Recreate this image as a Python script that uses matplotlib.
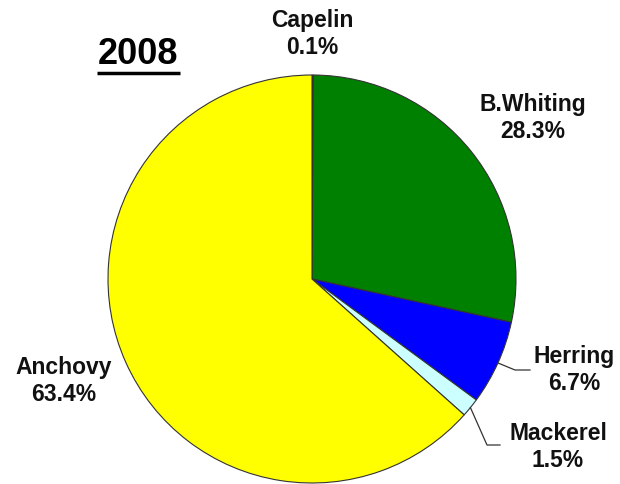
import numpy as np
import matplotlib.pyplot as plt

plt.rcParams["font.family"] = ["Liberation Sans", "DejaVu Sans"]
plt.rcParams["font.weight"] = "bold"

species = ["Capelin", "B.Whiting", "Herring", "Mackerel", "Anchovy"]
shares = [0.1, 28.3, 6.7, 1.5, 63.4]
colors = ["#800080", "#008000", "#0000FF", "#CCFFFF", "#FFFF00"]
year = "2008"

W, H = 620, 484
fig = plt.figure(figsize=(W / 100, H / 100), dpi=100)
ax = fig.add_axes([0, 0, 1, 1])

cx, cy, r = 312, H - 279, 204
ax.pie(shares, colors=colors, startangle=90, counterclock=False,
       center=(cx, cy), radius=r, frame=True,
       wedgeprops=dict(edgecolor="#333333", linewidth=0.8))
ax.set_xlim(0, W)
ax.set_ylim(0, H)
ax.set_aspect("equal")
ax.axis("off")

# label positions (pixels from top-left)
label_pos = {
    "Capelin": (312, 34),
    "B.Whiting": (533, 118),
    "Herring": (574, 370),
    "Mackerel": (558, 447),
    "Anchovy": (64, 381),
}
for name, val in zip(species, shares):
    x, y = label_pos[name]
    ax.text(x, H - y, f"{name}\n{val:.1f}%", ha="center", va="center",
            fontsize=16.5, fontweight="bold", linespacing=1.2, color="#111111")

# leader lines for the two small slices
elbows = {"Herring": (515, 370, 530), "Mackerel": (487, 445, 500)}
cum = np.cumsum([0] + shares[:-1])
for i, name in enumerate(species):
    if name not in elbows:
        continue
    mid = cum[i] + shares[i] / 2
    ang = np.deg2rad(90 - mid / sum(shares) * 360)
    sx, sy = cx + r * np.cos(ang), cy + r * np.sin(ang)
    ex, ey, tx = elbows[name]
    ax.plot([sx, ex, tx], [sy, H - ey, H - ey], color="#333333", lw=0.9)

ax.text(138, H - 54, year, ha="center", va="center", fontsize=26,
        fontweight="bold", color="black")
ax.plot([97, 180], [H - 73, H - 73], color="black", lw=2.5,
        solid_capstyle="butt")

fig.savefig("out.png", dpi=100)
